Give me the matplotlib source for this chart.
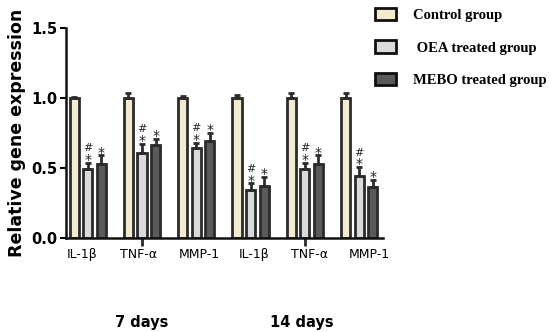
import matplotlib
matplotlib.use("Agg")
import matplotlib.pyplot as plt
import numpy as np
from matplotlib.patches import Patch

genes = ["IL-1β", "TNF-α", "MMP-1", "IL-1β", "TNF-α", "MMP-1"]
periods = ["7 days", "14 days"]
groups = ["Control group", " OEA treated group", "MEBO treated group"]

control = [1.00, 1.00, 1.00, 1.00, 1.00, 1.00]
control_err = [0.01, 0.035, 0.015, 0.025, 0.035, 0.035]
oea = [0.49, 0.61, 0.645, 0.345, 0.495, 0.445]
oea_err = [0.045, 0.06, 0.035, 0.045, 0.04, 0.06]
mebo = [0.53, 0.665, 0.695, 0.375, 0.53, 0.365]
mebo_err = [0.06, 0.045, 0.055, 0.06, 0.06, 0.05]
oea_marks = ["*"] * 6
oea_marks2 = ["#"] * 6
mebo_marks = ["*"] * 6

fig = plt.figure(figsize=(5.5, 3.32), dpi=100)
ax = fig.add_axes([66/550, (332-238)/332, (383-66)/550, 210/332])

x = np.arange(len(genes))
w = 0.17
off = 0.25
edge = "#2b2b2b"
cols = ["#f4ebcf", "#dadada", "#5a5a5a"]
series = [control, oea, mebo]
errs = [control_err, oea_err, mebo_err]
for i, (vals, er, c) in enumerate(zip(series, errs, cols)):
    xs = x + (i - 1) * off
    ax.bar(xs, vals, width=w, color=c, edgecolor=edge, linewidth=2.0, zorder=2)
    ax.errorbar(xs, vals, yerr=[np.zeros(len(vals)), er], fmt="none",
                ecolor=edge, elinewidth=2.0, capsize=2.5, capthick=2.0, zorder=3)

for i in range(len(genes)):
    top = oea[i] + oea_err[i]
    ax.annotate(oea_marks[i], (x[i], top), xytext=(0, -3), textcoords="offset points",
                ha="center", va="bottom", fontsize=10, color="#222222")
    ax.annotate(oea_marks2[i], (x[i], top), xytext=(0, 7), textcoords="offset points",
                ha="center", va="bottom", fontsize=8, color="#222222")
    ax.annotate(mebo_marks[i], (x[i] + off, mebo[i] + mebo_err[i]), xytext=(0, -3),
                textcoords="offset points", ha="center", va="bottom", fontsize=10,
                color="#222222")

ax.set_xlim(-0.40, 5.44)
ax.set_ylim(0, 1.5)
ax.set_yticks([0.0, 0.5, 1.0, 1.5])
ax.set_yticklabels(["0.0", "0.5", "1.0", "1.5"], fontsize=10.5, fontweight="bold")
ax.set_xticks([1, 4])
ax.set_xticklabels([])
ax.tick_params(axis="x", length=6, width=2, direction="out", colors=edge)
ax.tick_params(axis="y", length=4, width=1.5, pad=2)

label_pos = [-0.10, 0.93, 2.06, 3.07, 4.09, 5.19]
for p, g in zip(label_pos, genes):
    ax.text(p, -0.12, g, ha="center", va="center", fontsize=9, clip_on=False)

period_pos = [1.0, 3.95]
for p, t in zip(period_pos, periods):
    ax.text(p, -0.60, t, ha="center", va="center", fontsize=10.5,
            fontweight="bold", clip_on=False)

for s in ["top", "right"]:
    ax.spines[s].set_visible(False)
for s in ["left", "bottom"]:
    ax.spines[s].set_linewidth(1.8)
    ax.spines[s].set_color("#111111")

ax.set_ylabel("Relative gene expression", fontsize=12.5, fontweight="bold", labelpad=4)

handles = [Patch(facecolor=c, edgecolor="#111111", linewidth=2.0) for c in cols]
fig.legend(handles, groups, loc="upper left", bbox_to_anchor=(362/550, 1.015),
           frameon=False, prop={"family": "Liberation Serif", "weight": "bold", "size": 10.5},
           handlelength=1.4, handleheight=0.9, labelspacing=1.25, handletextpad=1.2)

fig.savefig("out.png", dpi=100)
